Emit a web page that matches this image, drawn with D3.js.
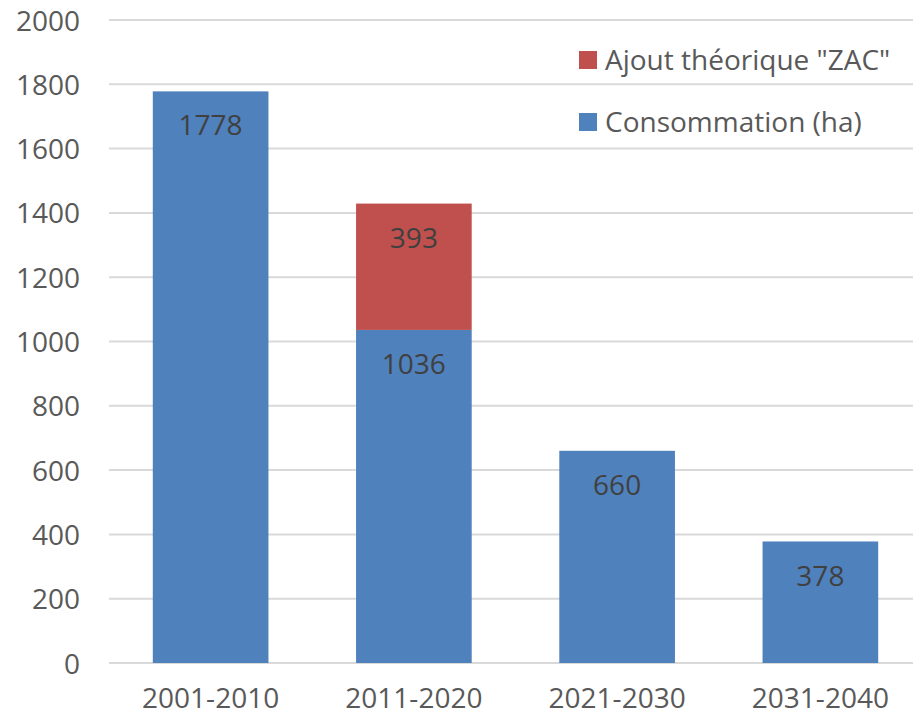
<!DOCTYPE html>
<html><head><meta charset="utf-8">
<script src="https://cdn.jsdelivr.net/npm/d3@7"></script>
<style>
html,body{margin:0;padding:0;background:#fff;}
svg text{font-family:"Open Sans","Noto Sans",sans-serif;}
</style></head>
<body><svg id="c" width="913" height="718"></svg>
<script>
const categories = ["2001-2010","2011-2020","2021-2030","2031-2040"];
const consommation = [1778,1036,660,378];
const ajoutZAC = [0,393,0,0];
const yTicks = [0,200,400,600,800,1000,1200,1400,1600,1800,2000];
const seriesNames = ["Consommation (ha)","Ajout théorique \"ZAC\""];
const colors = ["#4F81BD","#C0504D"];

const FS = "28px";
const svg = d3.select("#c");
const x = d3.scaleBand().domain(categories).range([109,922]).paddingInner(0.431).paddingOuter(0.2155);
const y = d3.scaleLinear().domain([0,2000]).range([663,20]);

// gridlines
svg.append("g").selectAll("line").data(yTicks).join("line")
  .attr("x1",109).attr("x2",913)
  .attr("y1",d=>y(d)).attr("y2",d=>y(d))
  .attr("stroke","#D9D9D9").attr("stroke-width",2);

// y labels
const yAxis = d3.axisLeft(y).tickValues(yTicks).tickFormat(d3.format("d")).tickSize(0).tickPadding(0);
const ya = svg.append("g").attr("transform","translate(80,0)").call(yAxis);
ya.select(".domain").remove();
ya.selectAll("text").attr("fill","#595959").style("font-size",FS).style("font-family","'Open Sans',sans-serif").attr("dy","0.36em");

// x labels
const xAxis = d3.axisBottom(x).tickSize(0).tickPadding(0);
const xa = svg.append("g").attr("transform","translate(0,688)").call(xAxis);
xa.select(".domain").remove();
xa.selectAll("text").attr("fill","#595959").style("font-size",FS).style("font-family","'Open Sans',sans-serif").attr("dy","0.71em");

const stackData = categories.map((c,i)=>({cat:c, cons:consommation[i], zac:ajoutZAC[i]}));
const stack = d3.stack().keys(["cons","zac"])(stackData);

stack.forEach((layer,li)=>{
  const g = svg.append("g");
  g.selectAll("rect").data(layer.filter(d=>d[1]-d[0]>0)).join("rect")
    .attr("x",d=>x(d.data.cat)).attr("width",x.bandwidth())
    .attr("y",d=>y(d[1])).attr("height",d=>y(d[0])-y(d[1]))
    .attr("fill",colors[li]);
  g.selectAll("text").data(layer.filter(d=>d[1]-d[0]>0)).join("text")
    .attr("x",d=>x(d.data.cat)+x.bandwidth()/2)
    .attr("y",d=>y(d[1])+34)
    .attr("dy","0.36em")
    .attr("text-anchor","middle")
    .attr("fill","#404040").style("font-size",FS)
    .text(d=>d[1]-d[0]);
});

// legend
const legendItems = [{name:seriesNames[1],color:colors[1]},{name:seriesNames[0],color:colors[0]}];
const lg = svg.append("g").selectAll("g").data(legendItems).join("g")
  .attr("transform",(d,i)=>`translate(579,${51+i*62})`);
lg.append("rect").attr("width",18).attr("height",18).attr("fill",d=>d.color);
lg.append("text").attr("x",26).attr("y",9).attr("dy","0.36em")
  .attr("fill","#595959").style("font-size",FS).text(d=>d.name);
</script></body></html>
